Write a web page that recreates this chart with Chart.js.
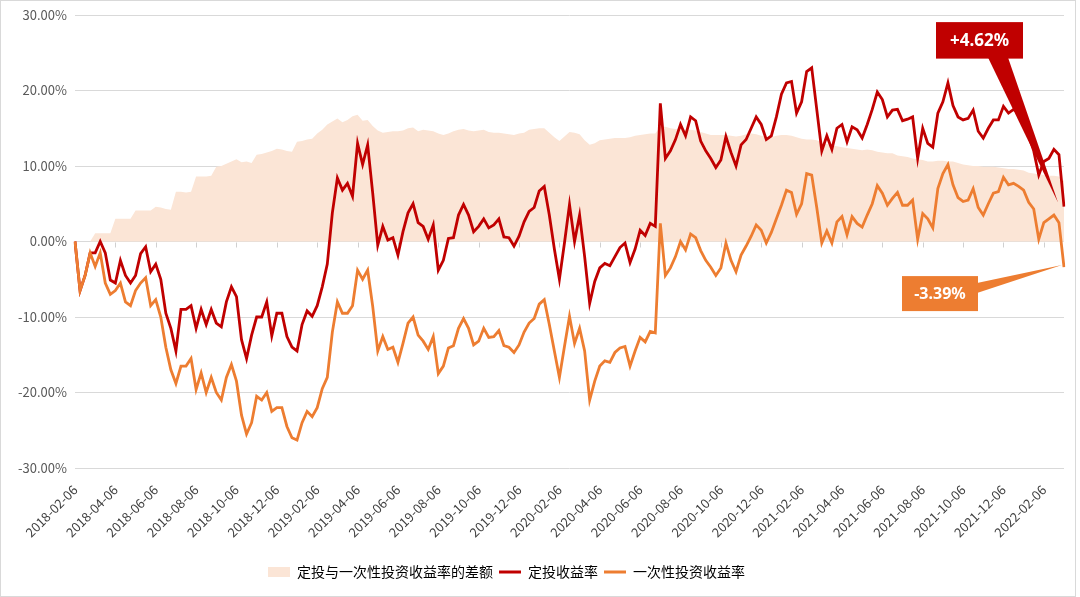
<!DOCTYPE html>
<html>
<head>
<meta charset="utf-8">
<script src="https://cdn.jsdelivr.net/npm/chart.js@4.4.0/dist/chart.umd.min.js"></script>
<style>
html, body { margin: 0; padding: 0; background: #fff; }
#marco { width: 1074px; height: 595px; border: 1px solid #d9d9d9; position: relative; }
</style>
</head>
<body>
<div id="marco"><canvas id="graficoRend"></canvas></div>
<script>
// Etiquetas del eje X (cada dos meses)
const etiquetasEje = [
    '2018-02-06', '2018-04-06', '2018-06-06', '2018-08-06', '2018-10-06', '2018-12-06',
    '2019-02-06', '2019-04-06', '2019-06-06', '2019-08-06', '2019-10-06', '2019-12-06',
    '2020-02-06', '2020-04-06', '2020-06-06', '2020-08-06', '2020-10-06', '2020-12-06',
    '2021-02-06', '2021-04-06', '2021-06-06', '2021-08-06', '2021-10-06', '2021-12-06',
    '2022-02-06'
];
const diasMes = ['06', '13', '21', '28'];

// 定投收益率 (4 valores por mes)
const rendDCA = [
    0, -6.5, -4.5, -1.5,   -1.5, 0, -1.5, -5.1,   -5.5, -2.5, -4.5, -5.5,   -4.5, -1.6, -0.7, -4,
    -3, -5, -9.5, -11.5,   -14.5, -9, -9, -8.5,   -11.5, -9, -11, -9,   -10.8, -11.3, -8, -6,
    -7.3, -13, -15.5, -12.4,   -10, -10, -8, -12.5,   -9.5, -9.5, -12.6, -14,   -14.5, -11, -9.2, -9.9,
    -8.5, -6, -3, 3.8,   8.4, 6.8, 7.7, 6.0,   13.0, 10.2, 12.8, 6.4,   -0.5, 2.0, 0.2, 0.5,
    -1.8, 1.3, 3.8, 5.0,   2.5, 2.0, 0.3, 2.2,   -3.8, -2.5, 0.4, 0.5,   3.5, 4.9, 3.5, 1.3,
    2.0, 3.0, 1.8, 2.2,   3.0, 0.6, 0.5, -0.6,   0.7, 2.6, 4.0, 4.5,   6.7, 7.3, 3.5, -1.0,
    -5.0, -0.2, 4.9, 0.0,   3.5, -2.0, -8.2, -5.3,   -3.5, -2.9, -3.2, -2.0,   -0.8, -0.2, -2.8, -1.0,
    1.5, 0.8, 2.4, 2.0,   18.3, 11.0, 12.0, 13.5,   15.5, 14.0, 16.5, 16.0,   13.3, 12.0, 11.0, 9.8,
    10.8, 13.9, 11.8, 10.0,   12.8, 13.5, 15.0, 16.5,   15.5, 13.5, 14.0, 16.5,   19.5, 21.0, 21.2, 17.0,
    18.5, 22.5, 23.0, 17.5,   12.0, 14.0, 12.2, 15.0,   15.5, 13.2, 15.2, 14.8,   13.7, 15.5, 17.5, 19.8,
    18.8, 16.5, 17.4, 17.5,   16.0, 16.2, 16.5, 11.0,   15.0, 13.0, 12.5, 17.0,   18.5, 21.0, 18.0, 16.5,
    16.1, 16.3, 17.4, 14.6,   13.7, 15.0, 16.1, 16.1,   17.9, 17.0, 17.5, 17.0,   16.0, 14.0, 12.0, 8.8,
    10.6, 11.0, 12.2, 11.5,   4.62
];

// 一次性投资收益率
const rendUnico = [
    0, -6.5, -4.5, -1.5,   -3.3, -1.5, -5.5, -7.0,   -6.5, -5.5, -8.0, -8.5,   -6.5, -5.5, -4.8, -8.5,
    -7.7, -10, -14, -17,   -18.8, -16.5, -16.5, -15.5,   -19.6, -17.4, -20, -18,   -20, -21, -18, -16.3,
    -18.5, -23, -25.5, -24,   -20.5, -21, -20, -22.5,   -22, -22, -24.5, -26,   -26.3, -24, -22.5, -23.2,
    -22, -19.5, -18, -12,   -8, -9.5, -9.5, -8.5,   -3.8, -5, -3.8, -8.6,   -14.5, -12.6, -14.3, -14,
    -16, -13.5, -10.8, -10,   -12.4, -13.2, -14.3, -12.6,   -17.5, -16.5, -14.1, -13.8,   -11.5, -10.2, -11.5, -13.7,
    -13.2, -11.5, -12.7, -12.6,   -11.8, -13.8, -14.0, -14.7,   -13.7, -12.0, -10.8, -10.2,   -8.3, -7.7, -11, -14.5,
    -18.0, -13.9, -9.9, -13.5,   -11.5, -14.5, -21.0, -18.5,   -16.5, -15.8, -16.0, -14.7,   -14.1, -13.9, -16.5, -14.5,
    -12.7, -13.3, -11.9, -12.1,   2.4, -4.5, -3.5, -2.0,   0, -1.1, 1.0, 0.5,   -1.2, -2.5, -3.4, -4.5,
    -3.5, -0.2, -2.5, -4.0,   -1.8, -0.6, 0.7, 2.2,   1.5, -0.2, 1.2, 3.0,   4.8, 6.8, 6.5, 3.6,
    5.0, 9.0, 8.8, 4.5,   -0.2, 1.4, -0.2, 2.6,   3.3, 0.9, 3.3, 2.4,   1.9, 3.5, 5.0, 7.4,
    6.4, 4.8, 5.7, 6.5,   4.8, 4.8, 5.5, 0.3,   3.7, 3.0, 1.8, 7.0,   9.0, 10.2, 7.5, 5.8,
    5.3, 5.5, 7.0, 4.5,   3.5, 5.0, 6.4, 6.6,   8.5, 7.5, 7.7, 7.3,   6.8, 5.2, 4.3, 0.3,
    2.5, 3.0, 3.5, 2.5,   -3.39
];

// 定投与一次性投资收益率的差额
const difRend = [
    0, 0, 0, 0,   1.1, 1.1, 1.1, 1.1,   3.0, 3.0, 3.0, 3.0,   4.1, 4.1, 4.1, 4.1,
    4.6, 4.5, 4.3, 4.2,   6.6, 6.6, 6.5, 6.6,   8.6, 8.6, 8.6, 8.7,   9.9, 10.0, 10.3, 10.6,
    10.9, 10.5, 10.6, 10.4,   11.5, 11.6, 11.8, 12.0,   12.3, 12.2, 12.0, 11.9,   13.2, 13.3, 13.5, 13.6,
    14.3, 14.8, 15.5, 15.9,   16.3, 15.8, 16.1, 16.6,   16.8, 16.0, 16.1, 15.3,   14.7, 14.4, 14.5, 14.6,
    14.6, 14.7, 15.0, 15.1,   14.6, 14.8, 14.7, 14.6,   14.3, 14.1, 14.3, 14.6,   14.8, 14.9, 14.7, 14.6,
    14.7, 14.8, 14.5, 14.4,   14.4, 14.3, 14.2, 14.1,   14.3, 14.4, 14.8, 14.9,   15.0, 15.0, 14.4, 13.8,
    13.3, 13.9, 14.5, 14.4,   14.2, 13.4, 12.8, 13.0,   13.4, 13.5, 13.6, 13.7,   13.7, 13.7, 13.8, 14.0,
    14.1, 14.2, 14.3, 14.3,   15.2, 15.2, 15.0, 14.9,   14.8, 14.8, 14.8, 14.7,   14.5, 14.3, 14.1, 14.1,
    14.1, 14.1, 14.0, 13.9,   14.0, 14.2, 14.3, 14.2,   14.0, 13.8, 13.8, 14.0,   14.1, 14.1, 14.0, 13.8,
    13.6, 13.5, 13.5, 13.4,   13.1, 12.9, 12.7, 12.6,   12.5, 12.4, 12.3, 12.2,   12.1, 12.2, 12.1, 11.9,
    11.8, 11.7, 11.7, 11.4,   11.3, 11.2, 11.0, 10.9,   10.8, 10.6, 10.6, 10.7,   10.7, 10.6, 10.6, 10.4,
    10.2, 10.1, 10.0, 10.0,   9.9, 9.9, 9.9, 9.8,   9.7, 9.6, 9.6, 9.5,   9.4, 9.1, 9.0, 8.9,
    8.8, 8.7, 8.7, 8.6,   8.0
];

// Fechas de cada punto (desde 2018-02)
const fechas = [];
for (let i = 0; i < rendDCA.length; i++) {
    const m = 1 + Math.floor(i / 4);
    const anio = 2018 + Math.floor(m / 12);
    const mes = String((m % 12) + 1).padStart(2, '0');
    fechas.push(`${anio}-${mes}-${diasMes[i % 4]}`);
}

const fuente = '"Noto Sans CJK SC", "Noto Sans", sans-serif';
const colorRojo = '#C00000';
const colorNaranja = '#ED7D31';
const colorArea = '#FBE5D6';

// Marcas pequeñas sobre la línea del cero
const marcasCero = {
    id: 'marcasCero',
    beforeDatasetsDraw(chart) {
        const { ctx, scales: { x, y } } = chart;
        const y0 = Math.round(y.getPixelForValue(0)) + 0.5;
        ctx.save();
        ctx.strokeStyle = '#d0d0d0';
        ctx.lineWidth = 1;
        fechas.forEach((f, i) => {
            if (!etiquetasEje.includes(f)) return;
            const px = Math.round(x.getPixelForValue(i)) + 0.5;
            ctx.beginPath();
            ctx.moveTo(px, y0);
            ctx.lineTo(px, y0 + 5);
            ctx.stroke();
        });
        ctx.restore();
    }
};

// Mover la leyenda un poco a la izquierda
const leyendaIzq = {
    id: 'leyendaIzq',
    afterLayout(chart) {
        chart.legend.left -= 26;
        chart.legend.right -= 26;
    }
};

// Función para dibujar una etiqueta con flecha
function dibujarLlamada(ctx, caja, flecha, texto, color, font) {
    ctx.fillStyle = color;
    ctx.fillRect(caja.x, caja.y, caja.w, caja.h);
    ctx.beginPath();
    ctx.moveTo(flecha[0][0], flecha[0][1]);
    ctx.lineTo(flecha[1][0], flecha[1][1]);
    ctx.lineTo(flecha[2][0], flecha[2][1]);
    ctx.closePath();
    ctx.fill();
    ctx.fillStyle = '#ffffff';
    ctx.font = font;
    ctx.textAlign = 'center';
    ctx.textBaseline = 'middle';
    ctx.fillText(texto, caja.x + caja.w / 2, caja.y + caja.h / 2 + 1);
}

const llamadasFinales = {
    id: 'llamadasFinales',
    afterDatasetsDraw(chart) {
        const { ctx, scales: { x, y } } = chart;
        const ult = rendDCA.length - 1;
        const px = x.getPixelForValue(ult);
        const pr = y.getPixelForValue(rendDCA[ult]);
        const po = y.getPixelForValue(rendUnico[ult]);
        ctx.save();
        dibujarLlamada(ctx,
            { x: px - 128, y: pr - 184.5, w: 87, h: 36.5 },
            [[px - 76, pr - 149], [px - 56, pr - 149], [px - 6, pr - 4]],
            '+' + rendDCA[ult].toFixed(2) + '%', colorRojo, 'bold 17px "Noto Sans", sans-serif');
        dibujarLlamada(ctx,
            { x: px - 162, y: po + 9, w: 76, h: 35 },
            [[px - 87, po + 16], [px - 87, po + 26], [px - 2, po - 2]],
            rendUnico[ult].toFixed(2) + '%', colorNaranja, 'bold 16px "Noto Sans", sans-serif');
        ctx.restore();
    }
};

new Chart(document.getElementById('graficoRend'), {
    type: 'line',
    data: {
        labels: fechas,
        datasets: [{
            label: '定投与一次性投资收益率的差额',
            data: difRend,
            backgroundColor: colorArea,
            borderColor: colorArea,
            borderWidth: 0,
            fill: 'origin',
            pointRadius: 0,
            order: 3
        }, {
            label: '定投收益率',
            data: rendDCA,
            borderColor: colorRojo,
            backgroundColor: colorRojo,
            borderWidth: 2.8,
            fill: false,
            pointRadius: 0,
            order: 2
        }, {
            label: '一次性投资收益率',
            data: rendUnico,
            borderColor: colorNaranja,
            backgroundColor: colorNaranja,
            borderWidth: 2.8,
            fill: false,
            pointRadius: 0,
            order: 1
        }]
    },
    options: {
        responsive: true,
        maintainAspectRatio: false,
        animation: false,
        events: [],
        layout: { padding: { top: 14, right: 11, bottom: 7, left: 0 } },
        font: { family: fuente },
        scales: {
            x: {
                grid: { display: false },
                border: { display: false },
                afterFit(scale) { scale.height = 91; },
                ticks: {
                    autoSkip: false,
                    minRotation: 45,
                    maxRotation: 45,
                    padding: 6,
                    color: '#404040',
                    font: { size: 13, family: fuente },
                    callback: function (val) {
                        const f = this.getLabelForValue(val);
                        return etiquetasEje.includes(f) ? f : null;
                    }
                }
            },
            y: {
                min: -30,
                max: 30,
                afterFit(scale) {
                    scale.width = 74;
                    scale.paddingTop = 0;
                    scale.paddingBottom = 0;
                },
                grid: { color: '#d9d9d9', drawTicks: false },
                border: { display: false },
                ticks: {
                    stepSize: 10,
                    padding: 8,
                    color: '#595959',
                    font: { size: 13, family: fuente },
                    callback: v => v.toFixed(2) + '%'
                }
            }
        },
        plugins: {
            tooltip: { enabled: false },
            legend: {
                position: 'bottom',
                labels: {
                    usePointStyle: true,
                    pointStyleWidth: 22,
                    boxHeight: 10,
                    padding: 6,
                    color: '#404040',
                    font: { size: 14, family: fuente },
                    sort: (a, b) => a.datasetIndex - b.datasetIndex,
                    generateLabels(chart) {
                        return chart.data.datasets.map((ds, i) => ({
                            text: ds.label,
                            fillStyle: ds.backgroundColor,
                            strokeStyle: ds.borderColor,
                            lineWidth: i === 0 ? 0 : 3,
                            pointStyle: i === 0 ? 'rect' : 'line',
                            hidden: false,
                            datasetIndex: i
                        }));
                    }
                }
            }
        }
    },
    plugins: [marcasCero, leyendaIzq, llamadasFinales]
});
</script>
</body>
</html>
